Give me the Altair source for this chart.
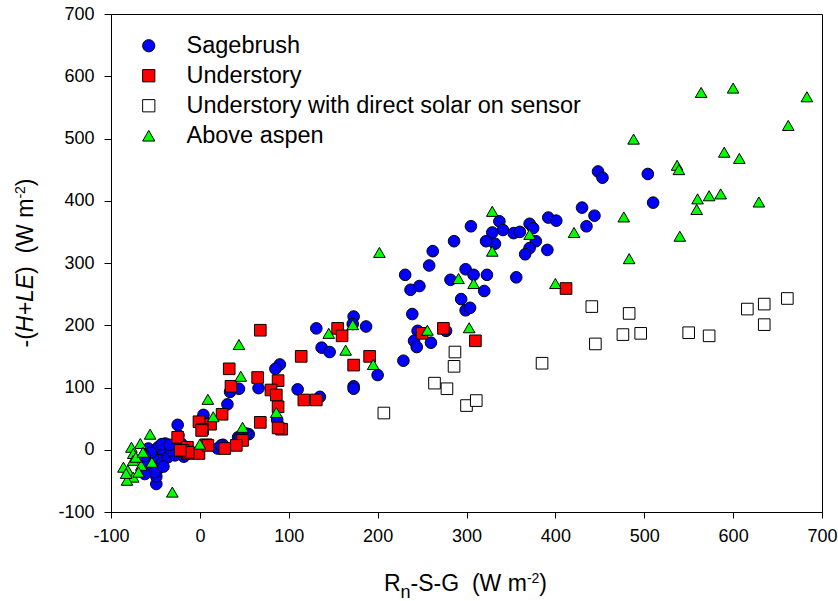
import altair as alt
import pandas as pd

# ---------------- data ----------------
series_names = ["Sagebrush", "Understory", "Understory with direct solar on sensor", "Above aspen"]
series_fill = ["#0000ff", "#ff0000", "#ffffff", "#00ff00"]
series_shape = ["circle", "square", "square", "triangle-up"]
series_stroke = ["#000000", "#000000", "#000000", "#000000"]

sage_x = [448, 453, 504, 510, 430, 444, 435, 392, 401, 391, 371, 375, 378, 371, 366, 356, 337, 341, 329, 332,
          353, 360, 322, 305, 286, 262, 258, 299, 308, 323, 282, 320, 231, 247, 237, 239, 294, 299, 304, 245,
          241, 244, 260, 277, 229, 173, 172, 187, 131, 137, 146, 135, 173, 173, 200, 110, 90, 85, 66, 44,
          34, 31, 55, 43, 87, 4, -25, 20, 26, 24, 52, 45,
          -49, -49, -47, -58, -41, -45, -53, -36, -28, -47, -51, -60, -62, -41, -32, -21, -24, -39, -43, -18,
          -14, -55, -62, -34]
sage_y = [447, 437, 443, 397, 389, 376, 359, 373, 368, 321, 363, 356, 335, 324, 314, 277, 367, 353, 349, 331,
          348, 350, 335, 359, 335, 319, 296, 290, 281, 281, 273, 255, 281, 263, 257, 218, 242, 224, 228, 191,
          175, 165, 172, 191, 143, 214, 202, 198, 195, 164, 157, 85, 102, 98, 120, 97, 137, 130, 99, 98,
          93, 73, 25, 20, 48, 56, 40, 2, 8, 7, 26, 20,
          -55, -43, 4, 2, -6, -17, -12, -12, -9, -31, -36, -23, -39, -27, -1, 10, 23, 10, 9, -11,
          -4, -5, -10, 8]

under_x = [412, 274, 310, 250, 155, 160, 68, 114, 191, 173, 33, 35, 65, 88, 80, 86, 88, 117, 131, 68,
           92, 88, 25, 12, -1, 3, -25, 48, 41, 28, 7, -1, -14, -14, -21, 2, -19, -13, 9, -22]
under_y = [259, 195, 175, 187, 195, 183, 192, 150, 150, 136, 130, 102, 116, 111, 96, 88, 69, 80, 80, 44,
           33, 35, 57, 41, 45, 33, 20, 15, 7, 2, 8, -6, -6, 4, -1, 31, -1, -4, 7, -1]

solar_x = [207, 264, 278, 287, 286, 300, 311, 385, 441, 445, 476, 483, 496, 550, 573, 616, 635, 635, 661]
solar_y = [59, 107, 98, 157, 134, 71, 79, 139, 230, 170, 185, 219, 187, 188, 183, 226, 234, 201, 243]

aspen_x = [600, 564, 683, 662, 488, 590, 607, 537, 539, 586, 573, 560, 559, 629, 477, 421, 540, 371, 483, 329,
           329, 202, 400, 291, 308, 172, 303, 256, 145, 164, 195, 44, 46, 9, 86, 15, 48, 0, -56, -31,
           -67, -77, -75, -86, -81, -75, -66, -54, -75, -82, -69, -83, -72, -64]
aspen_y = [581, 574, 567, 521, 499, 478, 468, 457, 450, 411, 408, 403, 386, 398, 374, 349, 343, 346, 307, 383,
           319, 317, 267, 275, 267, 201, 196, 192, 187, 160, 137, 169, 118, 81, 60, 53, 36, 9, 25, -68,
           10, 4, -6, -28, -33, -17, -25, -20, -44, -49, -36, -38, -12, -4]

x_ticks = [-100, 0, 100, 200, 300, 400, 500, 600, 700]
y_ticks = [-100, 0, 100, 200, 300, 400, 500, 600, 700]

# ---------------- build table ----------------
frames = []
for name, xs, ys in zip(series_names,
                        [sage_x, under_x, solar_x, aspen_x],
                        [sage_y, under_y, solar_y, aspen_y]):
    frames.append(pd.DataFrame({"x": xs, "y": ys, "series": name}))
df = pd.concat(frames, ignore_index=True)
df["order"] = range(len(df))

FONT = "Liberation Sans"
W_PLOT, H_PLOT = 711, 498
PAD = {"left": 111, "top": 14, "right": 16, "bottom": 89}
SYM = 135

legend = alt.Legend(title=None, orient="none", legendX=26, legendY=20,
                    labelFontSize=23.5, labelFont=FONT, labelColor="black", labelLimit=0,
                    symbolStrokeColor="black", symbolStrokeWidth=1, symbolSize=150,
                    symbolOpacity=1, rowPadding=5, labelOffset=26, padding=0)

axis_common = dict(title=None, grid=False, labelFontSize=18, labelFont=FONT, labelColor="black",
                   domainColor="black", tickColor="black", labelFlush=False, labelOverlap=False,
                   labelExpr="'' + datum.value")

points = alt.Chart(df).mark_point(
    filled=True, size=SYM, strokeWidth=1, opacity=1, fillOpacity=1
).encode(
    x=alt.X("x:Q", scale=alt.Scale(domain=[-100, 700], nice=False, zero=False),
            axis=alt.Axis(values=x_ticks, tickSize=6, labelPadding=9, **axis_common)),
    y=alt.Y("y:Q", scale=alt.Scale(domain=[-100, 700], nice=False, zero=False),
            axis=alt.Axis(values=y_ticks, tickSize=7, labelPadding=10, **axis_common)),
    fill=alt.Fill("series:N", scale=alt.Scale(domain=series_names, range=series_fill), legend=legend),
    shape=alt.Shape("series:N", scale=alt.Scale(domain=series_names, range=series_shape), legend=legend),
    stroke=alt.Stroke("series:N", scale=alt.Scale(domain=series_names, range=series_stroke), legend=legend),
    order=alt.Order("order:Q"),
)

# ---------------- axis titles with italic / sub / superscripts ----------------
ARIAL_W = {"-": 333, "(": 333, ")": 333, "H": 722, "+": 584, "L": 556, "E": 667, " ": 278,
           "\u00a0": 278, "W": 944, "m": 833, "2": 556, "R": 722, "n": 556, "S": 667, "G": 778}


def text_width(s, size):
    return sum(ARIAL_W.get(c, 556) for c in s) * size / 1000.0


def text_piece(txt, x, y, size, style="normal", angle=0):
    return alt.Chart(pd.DataFrame({"t": [txt]})).mark_text(
        font=FONT, fontSize=size, fontStyle=style, color="black", align="left",
        baseline="alphabetic", angle=angle
    ).encode(text="t:N", x=alt.value(x), y=alt.value(y))


# x title: pieces (text, size, style, baseline shift downward)
x_pieces = [("R", 23, "normal", 0), ("n", 18, "normal", 7), ("-S-G\u00a0\u00a0(W\u00a0m", 23, "normal", 0),
            ("-2", 14, "normal", -8), (")", 23, "normal", 0)]
x_total = sum(text_width(t, s) for t, s, _, _ in x_pieces)
x_start = 354.5 - x_total / 2
x_base = 576.5
x_layers = []
off = 0.0
for t, s, st, dy in x_pieces:
    x_layers.append(text_piece(t, x_start + off, x_base + dy, s, st))
    off += text_width(t, s)

# y title (rotated 270): pieces (text, size, style, shift to the left = raise)
y_pieces = [("-(", 23, "normal", 0), ("H+LE", 23, "italic", 0), (")\u00a0\u00a0(W\u00a0m", 23, "normal", 0),
            ("-2", 14, "normal", 8), (")", 23, "normal", 0)]
y_total = sum(text_width(t, s) for t, s, _, _ in y_pieces)
y_start = 249 + y_total / 2
y_base_x = -78
y_layers = []
off = 0.0
for t, s, st, raise_ in y_pieces:
    y_layers.append(text_piece(t, y_base_x - raise_, y_start - off, s, st, angle=270))
    off += text_width(t, s)

chart = alt.layer(points, *x_layers, *y_layers).properties(
    width=W_PLOT, height=H_PLOT, padding=PAD,
    autosize=alt.AutoSizeParams(type="none"),
    background="white",
).configure_view(stroke="black", strokeWidth=1).configure_axis(
    domainWidth=1, tickWidth=1
)

chart.save("out.html", embed_options={"renderer": "svg", "actions": False})
